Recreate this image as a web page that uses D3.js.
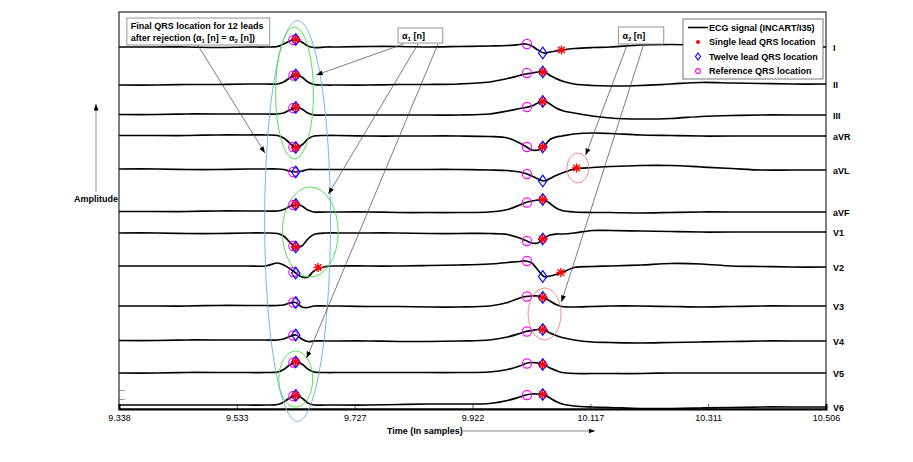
<!DOCTYPE html>
<html><head><meta charset="utf-8">
<script src="https://cdn.jsdelivr.net/npm/d3@7"></script>
<style>
body{margin:0;background:#fff}
text{font-family:"Liberation Sans",Arial,Helvetica,sans-serif}
</style>
</head><body>
<svg id="chart" width="913" height="462"></svg>
<script>
// ---------- DATA ----------
const leadNames = ["I","II","III","aVR","aVL","aVF","V1","V2","V3","V4","V5","V6"];
// vertical offset of each lead (display amplitude units, mV-like)
const leadOffsets = [-0.70,-1.44,-2.06,-2.48,-3.16,-4.00,-4.40,-5.10,-5.88,-6.58,-7.22,-7.90];
// sample times (x axis)
const times = [9.338,9.40,9.45,9.50,9.55,9.58,9.60,9.61,9.62,9.63,9.64,9.65,9.66,9.68,9.70,9.75,9.80,9.85,9.90,9.95,
  9.98,10.00,10.01,10.02,10.03,10.04,10.05,10.06,10.07,10.09,10.12,10.15,10.20,10.25,10.30,10.35,10.40,10.45,10.506];
// amplitude of each lead relative to its offset
const leadI   = [0,0,0,-0.01,0,0,0.01,0.06,0.12,0.15, 0.10,0.02,-0.01,0,0,0.01,0.01,0,0.01,0.02, 0.03,0.05,0.06,0.02,-0.06,-0.12,-0.10,-0.08,-0.06,-0.03, -0.01,0,0.04,0.05,0.04,0.03,0.02,0.01,0];
const leadII  = [-0.02,-0.02,-0.01,-0.01,0,0,0,0.04,0.12,0.18, 0.14,0.04,-0.01,-0.02,-0.02,-0.02,-0.01,-0.01,0,0.04, 0.11,0.17,0.20,0.22,0.24,0.25,0.17,0.11,0.06,0, -0.03,-0.04,-0.03,0,0.03,0.02,0.01,0,0];
const leadIII = [0.01,0.01,0.02,0.02,0.02,0.02,0.02,0.04,0.10,0.15, 0.12,0.04,0,0,0,0,0,0,0,0.02, 0.08,0.13,0.15,0.18,0.24,0.28,0.22,0.14,0.09,0.04, -0.02,-0.06,-0.08,-0.07,-0.03,-0.01,0,0,0];
const leadAVR = [0.01,0.01,0.01,0.02,0.02,0.02,0.01,-0.04,-0.14,-0.23, -0.18,-0.06,0,0.01,0.01,0,0,0,0,-0.01, -0.04,-0.14,-0.21,-0.28,-0.28,-0.21,-0.07,-0.02,0,0.04, 0.06,0.05,0.02,0.01,0,0,0,0,0];
const leadAVL = [0.02,0.02,0.01,0.01,0.02,0.02,0.02,0.01,-0.02,-0.04, -0.02,0.01,0.01,0.01,0.01,0.01,0.01,0.01,0.01,0, -0.01,-0.04,-0.07,-0.12,-0.18,-0.22,-0.17,-0.11,-0.06,0.02, 0.05,0.07,0.09,0.09,0.06,0.03,0,0,0];
const leadAVF = [0.01,0.01,0.01,0.02,0.02,0.02,0.02,0.05,0.11,0.15, 0.12,0.04,0,0,0,0,-0.01,-0.01,-0.01,0, 0.05,0.14,0.19,0.22,0.24,0.25,0.17,0.08,0.03,0, -0.01,-0.01,-0.02,-0.01,0,0,0,0,0];
const leadV1  = [-0.02,-0.02,-0.03,-0.03,-0.02,-0.02,-0.03,-0.08,-0.20,-0.30, -0.28,-0.14,-0.05,-0.02,-0.02,-0.02,-0.02,-0.03,-0.03,-0.03, -0.05,-0.12,-0.17,-0.22,-0.22,-0.13,-0.06,-0.04,-0.04,-0.02, 0.03,0.03,0.02,0.01,0,0,0,0,0];
const leadV2  = [0.02,0.02,0.02,0.02,0.02,0.02,0.08,0.04,-0.03,-0.12, -0.20,-0.20,-0.08,0.01,0.02,0.02,0.02,0.03,0.04,0.06, 0.09,0.11,0.12,0.08,-0.06,-0.19,-0.18,-0.15,-0.11,-0.01, 0.01,0.02,0.04,0.07,0.06,0.02,0.01,0,0];
const leadV3  = [0,0,0,0.01,0.01,0.01,0.01,0.02,0.06,0.07, -0.02,-0.03,0,0,0,-0.01,-0.01,-0.02,-0.02,0, 0.07,0.16,0.19,0.20,0.20,0.17,0.10,0.03,-0.01,-0.02, -0.01,0,0,-0.01,-0.02,-0.01,0,0,0];
const leadV4  = [0.01,0.01,0.02,0.02,0.02,0.02,0.02,0.04,0.09,0.12, 0.04,-0.01,0,0,0,0,-0.01,-0.01,0,0.02, 0.08,0.15,0.19,0.21,0.23,0.23,0.16,0.11,0.07,0.02, -0.02,-0.03,-0.04,-0.03,-0.02,-0.01,0,0,0];
const leadV5  = [0,0,0.01,0.01,0.01,0.01,0.02,0.07,0.16,0.22, 0.18,0.08,0.02,0.01,0.01,0.01,0.01,0.01,0.01,0.02, 0.07,0.14,0.19,0.21,0.20,0.17,0.10,0.05,0.01,-0.01, -0.01,-0.01,-0.01,0,0,0,0,0,0];
const leadV6  = [0.04,0.04,0.04,0.04,0.04,0.04,0.05,0.10,0.18,0.23, 0.18,0.08,0.04,0.04,0.04,0.04,0.05,0.06,0.06,0.07, 0.13,0.20,0.24,0.26,0.26,0.25,0.18,0.11,0.06,0.02, 0,-0.01,-0.03,-0.03,-0.02,-0.01,0,0,0];

// Reference QRS locations (magenta circles)
const refTimes = [9.626, 10.012];
const refAmpBeat1 = [0.14,0.17,0.14,-0.22,-0.04,0.14,-0.28,-0.10,0.07,0.11,0.21,0.22];
const refAmpBeat2 = [0.06,0.22,0.16,-0.22,-0.08,0.19,-0.18,0.12,0.19,0.19,0.19,0.24];
// Twelve lead QRS locations (blue diamonds)
const twelveTimes = [9.630, 10.038];
const twelveAmpBeat1 = [0.15,0.18,0.15,-0.23,-0.04,0.15,-0.30,-0.12,0.07,0.12,0.22,0.23];
const twelveAmpBeat2 = [-0.12,0.24,0.27,-0.22,-0.22,0.25,-0.14,-0.19,0.17,0.23,0.17,0.25];
// Single lead QRS locations (red)
const singleLead = [0,1,2,3,5,6,7,10,11, 0,1,2,3,4,5,6,7,8,9,10,11];
const singleTime = [9.630,9.630,9.630,9.630,9.630,9.630,9.667,9.630,9.630,
                    10.069,10.038,10.038,10.038,10.094,10.038,10.038,10.068,10.038,10.038,10.038,10.038];
const singleAmp  = [0.15,0.18,0.15,-0.23,0.15,-0.30,-0.01,0.22,0.23,
                    -0.06,0.24,0.27,-0.22,0.04,0.25,-0.14,-0.11,0.17,0.23,0.17,0.25];

const xTickValues = [9.338,9.5327,9.7273,9.922,10.1167,10.3113,10.506];
const xTickLabels = ["9.338","9.533","9.727","9.922","10.117","10.311","10.506"];
const yTickValues = [-7.56,-7.74];

const legendLabels = ["ECG signal (INCART/I35)","Single lead QRS location","Twelve lead QRS location","Reference QRS location"];

// ---------- SCALES ----------
const svg = d3.select("#chart");
const x = d3.scaleLinear().domain([9.338,10.506]).range([119,826]);
const y = d3.scaleLinear().domain([0,-7.94]).range([12,409]);
const series = [leadI,leadII,leadIII,leadAVR,leadAVL,leadAVF,leadV1,leadV2,leadV3,leadV4,leadV5,leadV6];

const defs = svg.append("defs");
defs.append("marker").attr("id","ah").attr("markerUnits","userSpaceOnUse")
  .attr("markerWidth",7).attr("markerHeight",6).attr("refX",6.5).attr("refY",2.5).attr("orient","auto")
  .append("path").attr("d","M0,0L6.5,2.5L0,5Z").attr("fill","#000");
defs.append("clipPath").attr("id","plotclip").append("rect")
  .attr("x",119).attr("y",12).attr("width",707).attr("height",397);

// frame
svg.append("rect").attr("x",119).attr("y",12).attr("width",707).attr("height",397)
  .attr("fill","#fff").attr("stroke","#000").attr("stroke-width",1);

// x axis
const xAxis = d3.axisBottom(x).tickValues(xTickValues).tickFormat((d,i)=>xTickLabels[i])
  .tickSize(-5).tickPadding(6);
const gx = svg.append("g").attr("transform","translate(0,409)").call(xAxis);
gx.select(".domain").attr("stroke","#000").attr("stroke-width",2);
gx.selectAll(".tick line").attr("stroke","#000").attr("stroke-width",0.6);
gx.selectAll("text").attr("font-size",9).attr("fill","#000")
  .style("font-family","'Liberation Sans',Arial,sans-serif");

// y axis small ticks
const gy = svg.append("g").attr("transform","translate(119,0)")
  .call(d3.axisLeft(y).tickValues(yTickValues).tickFormat("").tickSize(-6));
gy.select(".domain").remove();
gy.selectAll(".tick line").attr("stroke","#555").attr("stroke-width",0.6);

// traces
const line = d3.line().x((d,i)=>x(times[i])).curve(d3.curveCatmullRom.alpha(0.5));
const gTr = svg.append("g").attr("clip-path","url(#plotclip)");
series.forEach((s,k)=>{
  gTr.append("path").datum(s)
    .attr("d", line.y(v=>y(leadOffsets[k]+v)))
    .attr("fill","none").attr("stroke","#000").attr("stroke-width",1.7).attr("stroke-linejoin","round");
});

// annotation ellipses (data coordinates: time, amplitude, half-width in time, half-height in amplitude)
const ellipses = [
  {t:9.633, a:-4.18, rt:0.0544, ra:4.01, c:"#6aaee0"},
  {t:9.628, a:-1.62, rt:0.0313, ra:1.32, c:"#44dd44"},
  {t:9.654, a:-4.40, rt:0.0461, ra:0.90, c:"#44dd44"},
  {t:9.630, a:-7.34, rt:0.0280, ra:0.56, c:"#44dd44"},
  {t:10.096, a:-3.12, rt:0.0181, ra:0.30, c:"#f08080"},
  {t:10.041, a:-6.04, rt:0.0272, ra:0.52, c:"#f08080"}
];
const kx = x(9.338+1)-x(9.338), ky = y(-1)-y(0);
ellipses.forEach(e=>{
  svg.append("ellipse").attr("cx",x(e.t)).attr("cy",y(e.a))
    .attr("rx",e.rt*kx).attr("ry",e.ra*ky)
    .attr("fill","none").attr("stroke",e.c).attr("stroke-width",0.9);
});

// markers
const gm = svg.append("g");
function circ(t,a){ gm.append("circle").attr("cx",x(t)).attr("cy",y(a)).attr("r",4.6)
  .attr("fill","none").attr("stroke","#ff00ff").attr("stroke-width",1.1); }
function diam(t,a){ const cx=x(t), cy=y(a);
  gm.append("path").attr("d",`M${cx},${cy-5.8}L${cx+4.2},${cy}L${cx},${cy+5.8}L${cx-4.2},${cy}Z`)
  .attr("fill","none").attr("stroke","#0000ff").attr("stroke-width",1.2); }
function star(t,a){ const cx=x(t), cy=y(a), s=4.6, d=3.3;
  gm.append("path").attr("d",`M${cx-s},${cy}L${cx+s},${cy}M${cx},${cy-s}L${cx},${cy+s}M${cx-d},${cy-d}L${cx+d},${cy+d}M${cx-d},${cy+d}L${cx+d},${cy-d}`)
  .attr("fill","none").attr("stroke","#ff0000").attr("stroke-width",1.4); }
leadNames.forEach((n,k)=>{
  circ(refTimes[0], leadOffsets[k]+refAmpBeat1[k]);
  circ(refTimes[1], leadOffsets[k]+refAmpBeat2[k]);
});
leadNames.forEach((n,k)=>{
  diam(twelveTimes[0], leadOffsets[k]+twelveAmpBeat1[k]);
  diam(twelveTimes[1], leadOffsets[k]+twelveAmpBeat2[k]);
});
singleLead.forEach((k,i)=> star(singleTime[i], leadOffsets[k]+singleAmp[i]));

// lead labels
svg.append("g").selectAll("text").data(leadNames).join("text")
  .attr("x",833).attr("y",(d,k)=>y(leadOffsets[k])+0.5).attr("dominant-baseline","central")
  .attr("font-size",9).attr("font-weight","bold").text(d=>d);

// annotation boxes (time / amplitude corners)
function box(t0,t1,a0,a1){
  svg.append("rect").attr("x",x(t0)).attr("y",y(a0)).attr("width",x(t1)-x(t0)).attr("height",y(a1)-y(a0))
    .attr("fill","#fff").attr("stroke","#888").attr("stroke-width",0.9);
}
function arrow(t0,a0,t1,a1,col){
  svg.append("line").attr("x1",x(t0)).attr("y1",y(a0)).attr("x2",x(t1)).attr("y2",y(a1))
    .attr("stroke",col||"#444").attr("stroke-width",0.7).attr("marker-end","url(#ah)");
}
// arrows
arrow(9.468,-0.66, 9.579,-2.82);
arrow(9.808,-0.64, 9.664,-1.26);
arrow(9.832,-0.64, 9.684,-3.64);
arrow(9.865,-0.64, 9.648,-6.92);
arrow(10.178,-0.64, 10.109,-2.86);
arrow(10.205,-0.64, 10.069,-5.80);

box(9.351,9.587,-0.12,-0.66);
box(9.799,9.873,-0.32,-0.62);
box(10.163,10.238,-0.30,-0.64);

function subText(px,py,parts){
  const t = svg.append("text").attr("x",px).attr("y",py).attr("font-size",9).attr("font-weight","bold");
  parts.forEach(p=>{
    const ts = t.append("tspan").text(p.s);
    if(p.sub){ ts.attr("font-size",6).attr("dy",2); }
    if(p.up){ ts.attr("dy",-2); }
  });
  return t;
}
svg.append("text").attr("x",x(9.351)+4).attr("y",y(-0.12)+11).attr("font-size",9).attr("font-weight","bold")
  .text("Final QRS location for 12 leads");
subText(x(9.351)+4, y(-0.12)+23, [{s:"after rejection (α"},{s:"1",sub:true},{s:" [n] = α",up:true},{s:"2",sub:true},{s:" [n])",up:true}]);
subText(x(9.799)+4, y(-0.32)+11, [{s:"α"},{s:"1",sub:true},{s:" [n]",up:true}]);
subText(x(10.163)+4, y(-0.30)+12, [{s:"α"},{s:"2",sub:true},{s:" [n]",up:true}]);

// legend
const lg = svg.append("g").attr("transform","translate(683,19)");
lg.append("rect").attr("width",140).attr("height",60).attr("fill","#fff").attr("stroke","#555").attr("stroke-width",0.8);
const rows = [8.5,23,37.5,52];
lg.append("line").attr("x1",5).attr("x2",25).attr("y1",rows[0]).attr("y2",rows[0]).attr("stroke","#000").attr("stroke-width",1.6);
lg.append("circle").attr("cx",15).attr("cy",rows[1]).attr("r",2).attr("fill","#ff0000");
lg.append("path").attr("d",`M15,${rows[2]-3.5}L17.5,${rows[2]}L15,${rows[2]+3.5}L12.5,${rows[2]}Z`)
  .attr("fill","none").attr("stroke","#0000ff").attr("stroke-width",1.1);
lg.append("circle").attr("cx",15).attr("cy",rows[3]).attr("r",2.4).attr("fill","none").attr("stroke","#ff00ff").attr("stroke-width",1.1);
lg.selectAll("text.l").data(legendLabels).join("text").attr("class","l")
  .attr("x",26).attr("y",(d,i)=>rows[i]).attr("dominant-baseline","central")
  .attr("font-size",9).attr("font-weight","bold").text(d=>d);

// axis titles
svg.append("text").attr("x",118).attr("y",199).attr("text-anchor","end").attr("dominant-baseline","central")
  .attr("font-size",9).attr("font-weight","bold").text("Amplitude");
svg.append("line").attr("x1",96).attr("y1",192).attr("x2",96).attr("y2",104)
  .attr("stroke","#777").attr("stroke-width",0.8).attr("marker-end","url(#ah)");
svg.append("text").attr("x",387).attr("y",431).attr("dominant-baseline","central")
  .attr("font-size",9).attr("font-weight","bold").text("Time (In samples)");
svg.append("line").attr("x1",463).attr("y1",431).attr("x2",595).attr("y2",431)
  .attr("stroke","#555").attr("stroke-width",0.7).attr("marker-end","url(#ah)");
</script>
</body></html>
